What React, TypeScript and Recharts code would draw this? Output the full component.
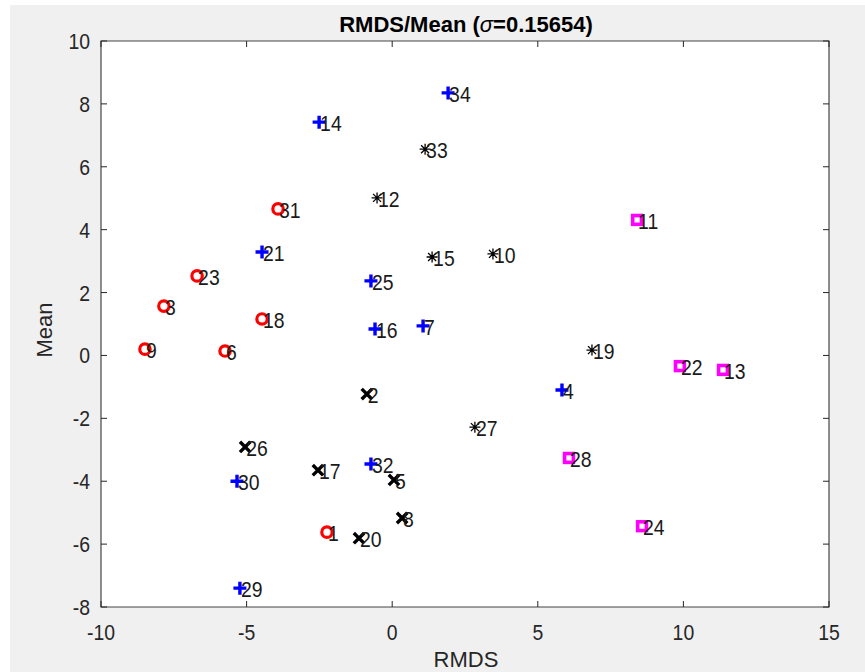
import React from "react";
import {
  ScatterChart,
  Scatter,
  XAxis,
  YAxis,
  CartesianGrid,
  ReferenceArea,
} from "recharts";

// point groups (id labels + RMDS / Mean coordinates)
const circleIds = [1, 3, 6, 9, 18, 23, 31];
const circleX = [-2.24, -7.84, -5.74, -8.49, -4.47, -6.7, -3.92];
const circleY = [-5.62, 1.57, 0.14, 0.2, 1.16, 2.53, 4.66];

const plusIds = [4, 7, 14, 16, 21, 25, 29, 30, 32, 34];
const plusX = [5.83, 1.06, -2.51, -0.59, -4.47, -0.73, -5.23, -5.33, -0.73, 1.92];
const plusY = [-1.1, 0.94, 7.42, 0.84, 3.29, 2.37, -7.4, -4.0, -3.45, 8.35];

const starIds = [10, 12, 15, 19, 27, 33];
const starX = [3.46, -0.52, 1.37, 6.86, 2.84, 1.13];
const starY = [3.23, 5.01, 3.13, 0.17, -2.28, 6.56];

const crossIds = [2, 5, 8, 17, 20, 26];
const crossX = [-0.87, 0.06, 0.34, -2.55, -1.14, -5.05];
const crossY = [-1.23, -3.96, -5.17, -3.65, -5.81, -2.91];

const squareIds = [11, 13, 22, 24, 28];
const squareX = [8.41, 11.36, 9.88, 8.58, 6.07];
const squareY = [4.31, -0.46, -0.34, -5.43, -3.26];

const xTicks = [-10, -5, 0, 5, 10, 15];
const yTicks = [-8, -6, -4, -2, 0, 2, 4, 6, 8, 10];

const W = 865;
const H = 672;
const PLOT = { left: 101, top: 41, right: 829, bottom: 607 };
const INK = "#262626";
const FONT = "'Liberation Sans', Arial, sans-serif";

const toRows = (ids: number[], xs: number[], ys: number[]) =>
  ids.map((id, i) => ({ id, x: xs[i], y: ys[i] }));

// MATLAB's digits render a bit taller than Arial, stretch slightly
function TallText({ x, y, anchor = "start", fill = INK, children }: any) {
  return (
    <text
      transform={`translate(${x},${y}) scale(0.97,1.12)`}
      textAnchor={anchor}
      fontSize={20}
      fontFamily={FONT}
      fill={fill}
    >
      {children}
    </text>
  );
}

function makeShape(kind: string) {
  return (props: any) => {
    const { cx, cy, payload } = props;
    let mark: React.ReactNode = null;
    if (kind === "o") {
      mark = <circle cx={cx} cy={cy} r={5.2} fill="none" stroke="#ff0000" strokeWidth={3.2} />;
    } else if (kind === "+") {
      mark = (
        <path
          d={`M${cx - 6.5},${cy}H${cx + 6.5}M${cx},${cy - 6.5}V${cy + 6.5}`}
          stroke="#0000ff"
          strokeWidth={3.4}
        />
      );
    } else if (kind === "*") {
      mark = (
        <path
          d={`M${cx - 5.5},${cy}H${cx + 5.5}M${cx},${cy - 5.5}V${cy + 5.5}M${cx - 4},${cy - 4}L${cx + 4},${cy + 4}M${cx - 4},${cy + 4}L${cx + 4},${cy - 4}`}
          stroke="#000"
          strokeWidth={1.3}
        />
      );
    } else if (kind === "x") {
      mark = (
        <path
          d={`M${cx - 5.2},${cy - 5.2}L${cx + 5.2},${cy + 5.2}M${cx - 5.2},${cy + 5.2}L${cx + 5.2},${cy - 5.2}`}
          stroke="#000"
          strokeWidth={3.4}
        />
      );
    } else {
      mark = (
        <rect
          x={cx - 4.4}
          y={cy - 4.4}
          width={8.8}
          height={8.8}
          fill="none"
          stroke="#ff00ff"
          strokeWidth={3.6}
        />
      );
    }
    return (
      <g>
        {mark}
        <TallText x={cx + 1} y={cy + 9} fill="#1a1a1a">
          {payload.id}
        </TallText>
      </g>
    );
  };
}

function XTick(props: any) {
  const { x, payload } = props;
  return (
    <g>
      <line x1={x} x2={x} y1={PLOT.bottom} y2={PLOT.bottom - 6} stroke={INK} />
      <line x1={x} x2={x} y1={PLOT.top} y2={PLOT.top + 6} stroke={INK} />
      <TallText x={x} y={PLOT.bottom + 33} anchor="middle">
        {payload.value}
      </TallText>
    </g>
  );
}

function YTick(props: any) {
  const { y, payload } = props;
  return (
    <g>
      <line x1={PLOT.left} x2={PLOT.left + 6} y1={y} y2={y} stroke={INK} />
      <line x1={PLOT.right} x2={PLOT.right - 6} y1={y} y2={y} stroke={INK} />
      <TallText x={PLOT.left - 11} y={y + 8} anchor="end">
        {payload.value}
      </TallText>
    </g>
  );
}

export default function App() {
  return (
    <div style={{ position: "absolute", left: 0, top: 0, width: W, height: H, background: "#fff" }}>
      <div
        style={{
          position: "absolute",
          left: 10,
          top: 5,
          width: W - 10,
          height: H - 5,
          background: "#f0f0f0",
        }}
      />
      <div style={{ position: "absolute", left: 0, top: 0 }}>
        <ScatterChart
          width={W}
          height={H}
          margin={{
            top: PLOT.top,
            left: PLOT.left - 60,
            right: W - PLOT.right,
            bottom: H - PLOT.bottom - 40,
          }}
        >
          <CartesianGrid fill="#ffffff" horizontal={false} vertical={false} />
          <XAxis
            type="number"
            dataKey="x"
            domain={[-10, 15]}
            ticks={xTicks}
            height={40}
            tickSize={0}
            tickLine={false}
            axisLine={false}
            tick={<XTick />}
            interval={0}
          />
          <YAxis
            type="number"
            dataKey="y"
            domain={[-8, 10]}
            ticks={yTicks}
            width={60}
            tickSize={0}
            tickLine={false}
            axisLine={false}
            tick={<YTick />}
            interval={0}
          />
          <ReferenceArea
            x1={-10}
            x2={15}
            y1={-8}
            y2={10}
            fill="none"
            stroke={INK}
            strokeWidth={1.2}
            strokeOpacity={0.85}
          />
          <Scatter data={toRows(circleIds, circleX, circleY)} shape={makeShape("o")} isAnimationActive={false} />
          <Scatter data={toRows(plusIds, plusX, plusY)} shape={makeShape("+")} isAnimationActive={false} />
          <Scatter data={toRows(starIds, starX, starY)} shape={makeShape("*")} isAnimationActive={false} />
          <Scatter data={toRows(crossIds, crossX, crossY)} shape={makeShape("x")} isAnimationActive={false} />
          <Scatter data={toRows(squareIds, squareX, squareY)} shape={makeShape("s")} isAnimationActive={false} />
        </ScatterChart>
      </div>
      <svg
        width={W}
        height={H}
        style={{ position: "absolute", left: 0, top: 0, pointerEvents: "none" }}
      >
        <text
          x={(PLOT.left + PLOT.right) / 2 + 1}
          y={32}
          textAnchor="middle"
          fontSize={22}
          fontWeight="bold"
          fontFamily={FONT}
          fill="#000"
        >
          RMDS/Mean (<tspan fontStyle="italic" fontWeight="normal">σ</tspan>=0.15654)
        </text>
        <text
          x={(PLOT.left + PLOT.right) / 2 + 1}
          y={667}
          textAnchor="middle"
          fontSize={22}
          fontFamily={FONT}
          fill={INK}
        >
          RMDS
        </text>
        <text
          transform={`translate(52, ${(PLOT.top + PLOT.bottom) / 2 + 6}) rotate(-90)`}
          textAnchor="middle"
          fontSize={22}
          fontFamily={FONT}
          fill={INK}
        >
          Mean
        </text>
      </svg>
    </div>
  );
}
